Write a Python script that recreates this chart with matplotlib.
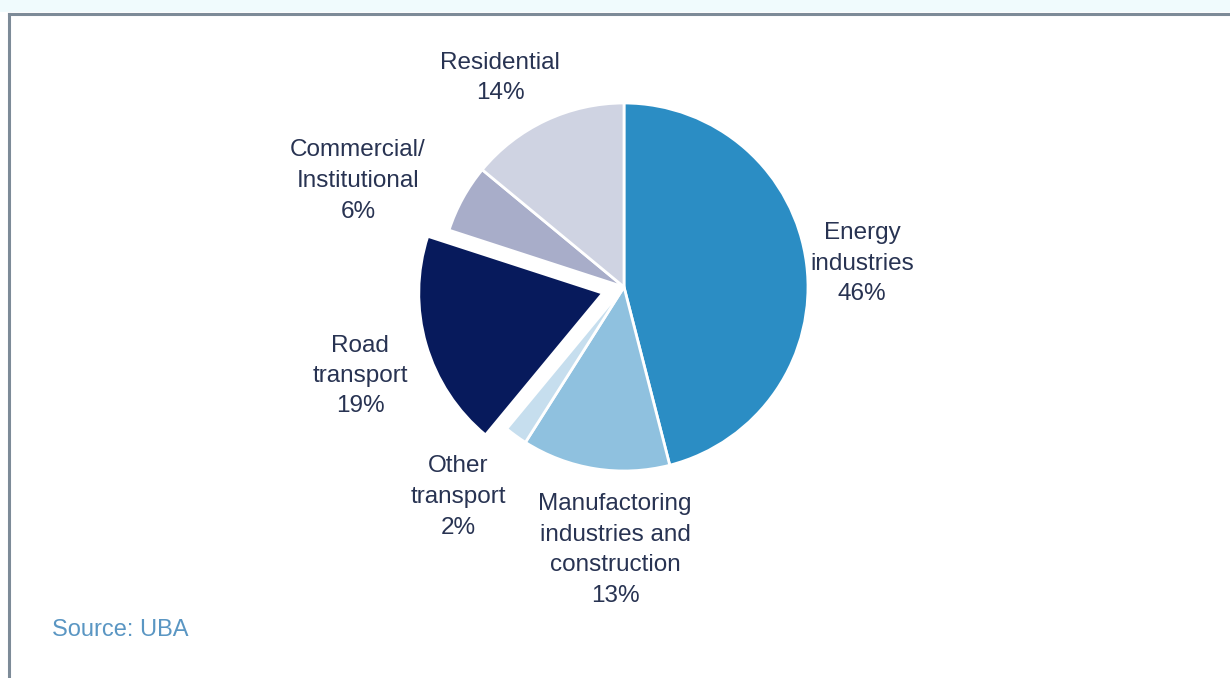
import matplotlib
matplotlib.use("Agg")
import matplotlib.pyplot as plt
from matplotlib.lines import Line2D
from matplotlib.patches import Rectangle

plt.rcParams['font.family'] = ['Liberation Sans', 'DejaVu Sans']

# emission shares by source sector, clockwise from 12 o'clock
sectors = ['Energy\nindustries', 'Manufactoring\nindustries and\nconstruction',
           'Other\ntransport', 'Road\ntransport', 'Commercial/\nInstitutional',
           'Residential']
shares = [46, 13, 2, 19, 6, 14]
colors = ['#2b8dc4', '#8fc1df', '#c6deee', '#071a5c', '#a8adc9', '#cfd3e2']
pull = [0, 0, 0, 0.12, 0, 0]   # fraction of radius

# label anchor points (pixel coords, y measured from top)
label_xy = [(862, 264), (615, 550), (458, 497), (360, 376), (358, 181), (500, 78)]

W, H = 1230, 678
R = 184
fig = plt.figure(figsize=(W / 100, H / 100), dpi=100)
ax = fig.add_axes([0, 0, 1, 1])

# pie explode is in data units, so scale by the radius
ax.pie(shares, colors=colors, explode=[p * R for p in pull], startangle=90,
       counterclock=False, center=(624, H - 287), radius=R,
       wedgeprops=dict(edgecolor='white', linewidth=2))
ax.set_xlim(0, W)
ax.set_ylim(0, H)
ax.set_aspect('equal')
ax.axis('off')

for name, val, (x, y) in zip(sectors, shares, label_xy):
    ax.text(x, H - y, f'{name}\n{val}%', ha='center', va='center',
            fontsize=17.5, color='#283352', linespacing=1.5)

ax.text(52, H - 630, 'Source: UBA', ha='left', va='center',
        fontsize=17, color='#5a96c3')

# box frame, open to the right and bottom
fig.patches.append(Rectangle((0, 1 - 12 / H), 1, 12 / H, transform=fig.transFigure,
                             facecolor='#f0fbfd', edgecolor='none', zorder=0))
fig.add_artist(Line2D([9 / W, 1], [1 - 14 / H, 1 - 14 / H], color='#7d8b98', lw=2.2))
fig.add_artist(Line2D([9 / W, 9 / W], [0, 1 - 14 / H], color='#7d8b98', lw=2.2))

fig.savefig('out.png', dpi=100, facecolor='white')
